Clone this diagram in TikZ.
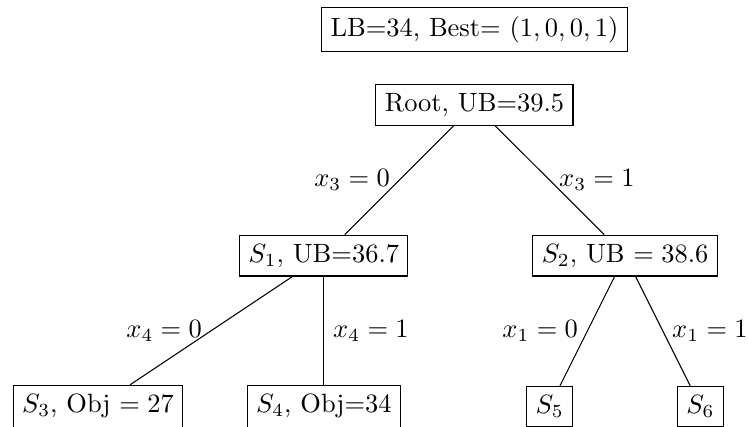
\documentclass[tikz,border=0pt]{standalone}
\begin{document}
\begin{tikzpicture}[x=1cm,y=1cm,
  box/.style={draw, rectangle}]
\useasboundingbox (-6.301,-4.263) rectangle (3.632,1.394);
\node[box] (best) at (0,1) {LB=34, Best= $(1,0,0,1)$};
\node[box] (root) at (0,0) {Root, UB=39.5};
\node[box] (s1) at (-2,-2) {$S_1$, UB=36.7};
\node[box] (s2) at (2,-2) {$S_2$, UB $=38.6$};
\node[box] (s3) at (-5,-4) {$S_3$, Obj $=27$};
\node[box] (s4) at (-2,-4) {$S_4$, Obj=34};
\node[box] (s5) at (1,-4) {$S_5$};
\node[box] (s6) at (3,-4) {$S_6$};
\draw (root) -- node[left] {$x_3=0$} (s1);
\draw (root) -- node[right] {$x_3=1$} (s2);
\draw (s1) -- node[left] {$x_4=0$} (s3);
\draw (s1) -- node[right] {$x_4=1$} (s4);
\draw (s2) -- node[left] {$x_1=0$} (s5);
\draw (s2) -- node[right] {$x_1=1$} (s6);
\end{tikzpicture}
\end{document}
